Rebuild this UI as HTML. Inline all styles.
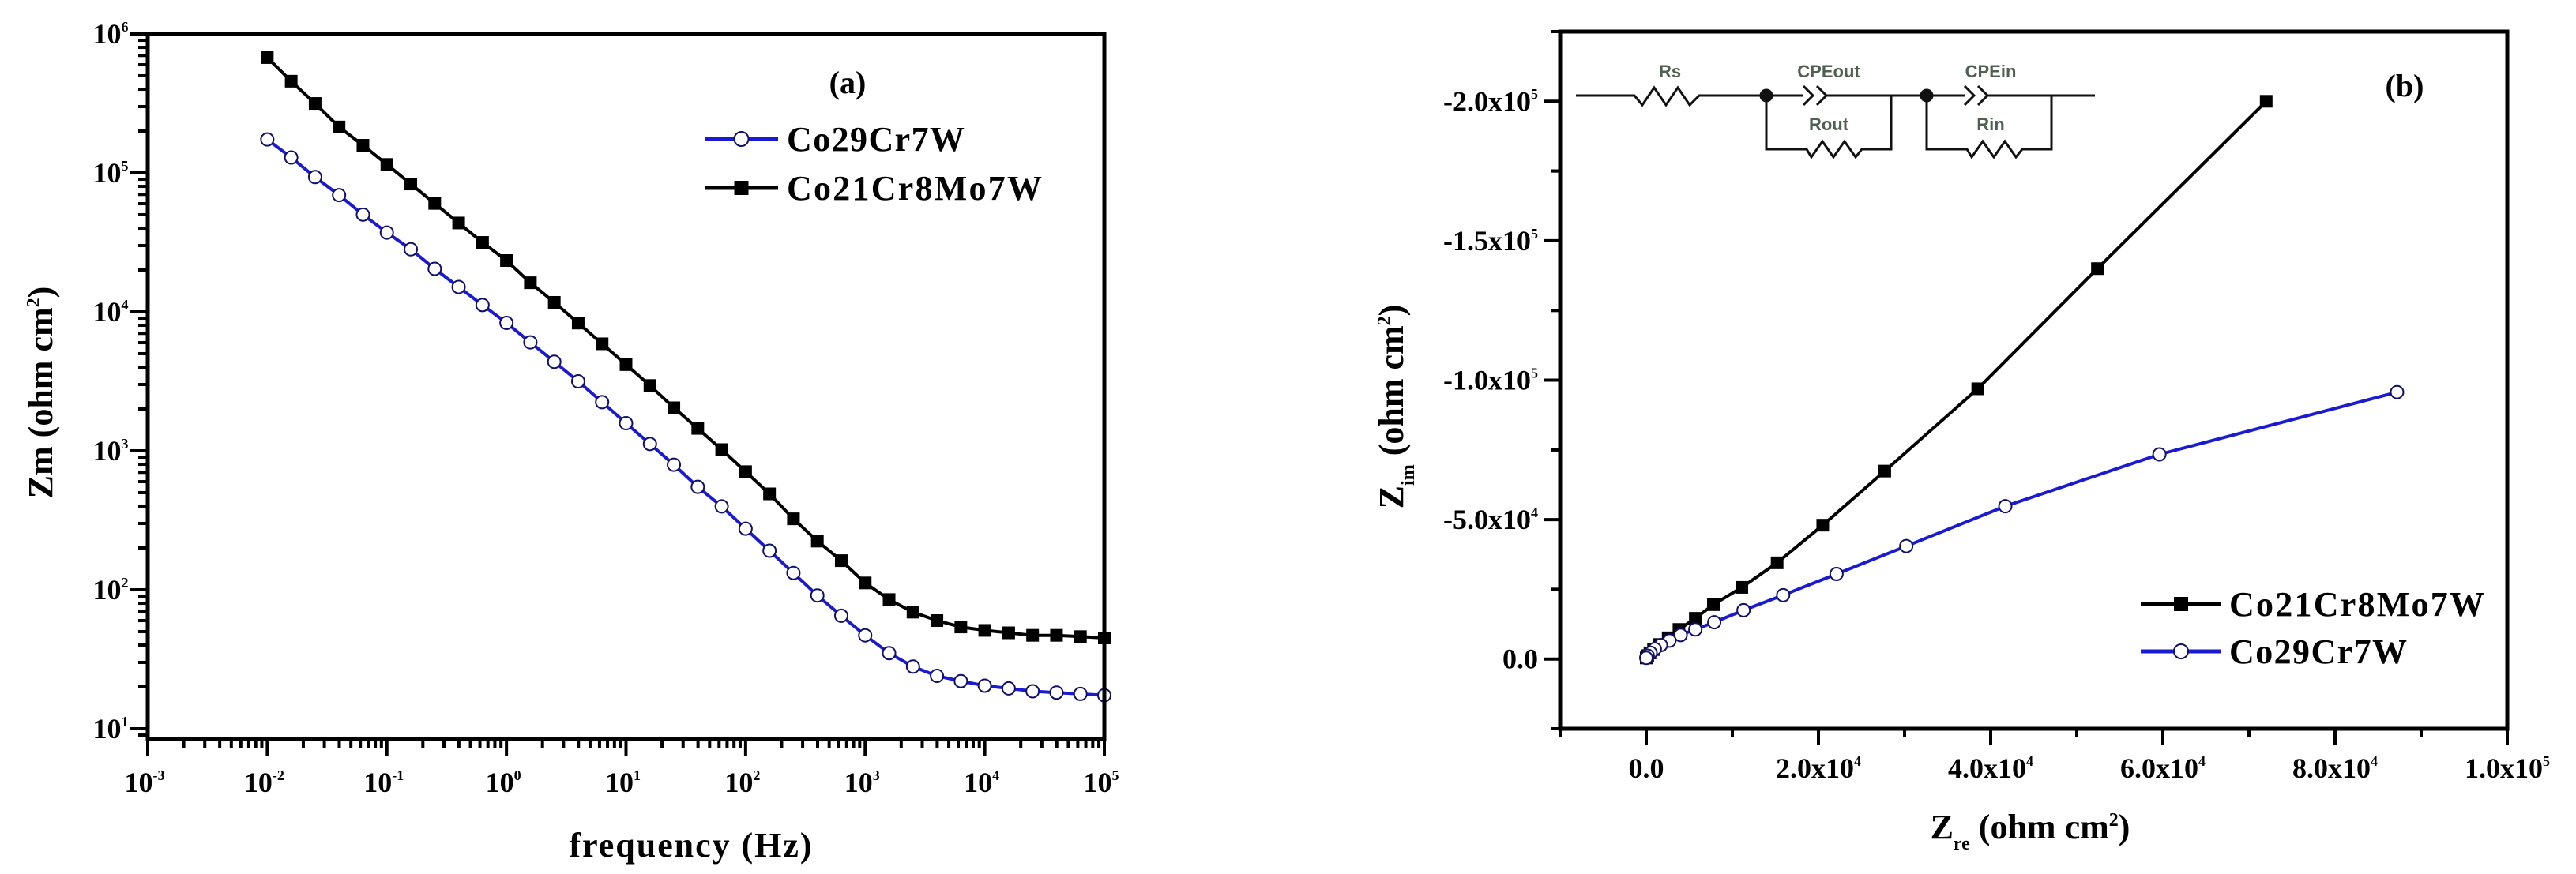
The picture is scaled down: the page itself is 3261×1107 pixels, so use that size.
<!DOCTYPE html>
<html><head><meta charset="utf-8"><style>
html,body{margin:0;padding:0;background:#fff;}
svg{display:block;font-family:"Liberation Serif",serif;font-weight:bold;}
</style></head><body>
<svg id="fig" width="3261" height="1107" viewBox="0 0 3261 1107" xmlns="http://www.w3.org/2000/svg">
<g id="pa"></g>
<g id="pb"></g>
</svg>
<script>
// ---- Panel (a) data ----
const freqExponents = [-2,-1.8,-1.6,-1.4,-1.2,-1,-0.8,-0.6,-0.4,-0.2,0,0.2,0.4,0.6,0.8,1,1.2,1.4,1.6,1.8,2,2.2,2.4,2.6,2.8,3,3.2,3.4,3.6,3.8,4,4.2,4.4,4.6,4.8,5];
const zmCo21 = [676000,457000,316000,214000,158000,115000,83200,60300,43600,31600,23400,16200,11700,8300,5890,4170,2950,2040,1450,1020,708,490,324,224,162,112,85,69,60,54,51,49,47,47,46,45];
const zmCo29 = [174000,129000,93300,69200,50100,37200,28200,20400,15100,11200,8320,6030,4370,3160,2240,1580,1120,794,550,398,275,191,132,91,65,47,35,28,24,22,20.4,19.5,18.6,18.2,17.8,17.4];
const xDecadesA = [-3,-2,-1,0,1,2,3,4,5];
const yDecadesA = [1,2,3,4,5,6];
// ---- Panel (b) data ----
const zreCo21 = [72000,52400,38500,27700,20500,15200,11100,7800,5700,3800,2550,1530,850,430,170,0];
const zimCo21 = [200000,140000,96900,67400,48000,34500,25700,19500,14600,10600,7600,5200,3400,2200,1200,400];
const zreCo29 = [87200,59600,41700,30200,22100,15900,11300,7900,5700,4000,2700,1700,1000,510,170,0];
const zimCo29 = [95700,73400,54800,40500,30500,22900,17500,13200,10600,8600,6600,5000,3600,2200,1200,400];
const xTicksB = [0,20000,40000,60000,80000,100000];
const xTickLabelsB = ["0.0","2.0x10|4","4.0x10|4","6.0x10|4","8.0x10|4","1.0x10|5"];
const yTicksB = [0,50000,100000,150000,200000];
const yTickLabelsB = ["0.0","-5.0x10|4","-1.0x10|5","-1.5x10|5","-2.0x10|5"];

const NS="http://www.w3.org/2000/svg";
function mk(parent,tag,attrs,text){const e=document.createElementNS(NS,tag);for(const k in attrs)e.setAttribute(k,attrs[k]);if(text!==undefined)e.textContent=text;parent.appendChild(e);return e;}
function expLabel(parent,x,y,base,exp,anchor,size){
  const t=mk(parent,'text',{x:x,y:y,'text-anchor':anchor,'font-size':size});
  mk(t,'tspan',{},base);
  if(exp!==undefined&&exp!==null){mk(t,'tspan',{dy:-size*0.42,'font-size':size*0.5},exp);}
  return t;
}

// ===== Panel A =====
const A={L:187,R:1398,T:43,B:936,xmin:-3,xmax:5,ymin:0.926,ymax:6};
function axA(f){return A.L+(Math.log10(f)-A.xmin)/(A.xmax-A.xmin)*(A.R-A.L);}
function ayA(v){return A.B-(Math.log10(v)-A.ymin)/(A.ymax-A.ymin)*(A.B-A.T);}
const pa=document.getElementById('pa');
const ticksA=mk(pa,'g',{stroke:'#000','stroke-width':4});


xDecadesA.forEach((d,i)=>{
  const x=axA(Math.pow(10,d));mk(ticksA,'line',{x1:x,y1:A.B,x2:x,y2:A.B+21});
  if(i<xDecadesA.length-1)for(let m=2;m<10;m++){const xm=axA(m*Math.pow(10,d));mk(ticksA,'line',{x1:xm,y1:A.B,x2:xm,y2:A.B+11});}
});
yDecadesA.forEach((d,i)=>{
  const y=ayA(Math.pow(10,d));mk(ticksA,'line',{x1:A.L,y1:y,x2:A.L-22,y2:y});
  for(let m=2;m<10;m++){const v=m*Math.pow(10,d-1);if(ayA(v)<=A.B){const ym=ayA(v);mk(ticksA,'line',{x1:A.L,y1:ym,x2:A.L-12,y2:ym});}}
});
const xlA=mk(pa,'g',{});


xDecadesA.forEach(d=>{expLabel(xlA,axA(Math.pow(10,d))-4,1003,'10',String(d),'middle',36);});
const ylA=mk(pa,'g',{});


yDecadesA.forEach(d=>{expLabel(ylA,140,ayA(Math.pow(10,d))+12,'10',String(d),'middle',36);});
function seriesA(vals,color,marker,name){
  const g=mk(pa,'g',{});
  
  
  const pts=freqExponents.map((e,i)=>axA(Math.pow(10,e)).toFixed(1)+','+ayA(vals[i]).toFixed(1)).join(' ');
  mk(g,'polyline',{points:pts,fill:'none',stroke:color,'stroke-width':4});
  freqExponents.forEach((e,i)=>{
    const x=axA(Math.pow(10,e)),y=ayA(vals[i]);
    let m;
    if(marker==='sq'){m=mk(g,'rect',{x:x-8,y:y-8,width:16,height:16,fill:'#000'});}
    else{m=mk(g,'circle',{cx:x,cy:y,r:8,fill:'#fff',stroke:'#10106a','stroke-width':2});}
    
    
  });
}
seriesA(zmCo21,'#000','sq','series-co21cr8mo7w-a');
seriesA(zmCo29,'#1a1ad0','circ','series-co29cr7w-a');
const frA=mk(pa,'rect',{x:A.L,y:A.T,width:A.R-A.L,height:A.B-A.T,fill:'none',stroke:'#000','stroke-width':5});


const tA=mk(pa,'text',{x:1073,y:118,'text-anchor':'middle','font-size':40},'(a)');


const xtA=mk(pa,'text',{x:874,y:1085,'text-anchor':'middle','font-size':44,textLength:307},'frequency (Hz)');


const ytA=mk(pa,'text',{x:0,y:0,'text-anchor':'middle','font-size':44,transform:'translate(66,497) rotate(-90)'});
mk(ytA,'tspan',{},'Zm (ohm cm');mk(ytA,'tspan',{dy:-16,'font-size':24},'2');mk(ytA,'tspan',{dy:16},')');


function legend(parent,x1,x2,y,tx,label,color,marker,name){
  const g=mk(parent,'g',{});
  
  
  mk(g,'line',{x1:x1,y1:y,x2:x2,y2:y,stroke:color,'stroke-width':5});
  const cx=(x1+x2)/2;
  if(marker==='sq')mk(g,'rect',{x:cx-9,y:y-9,width:18,height:18,fill:'#000'});
  else mk(g,'circle',{cx:cx,cy:y,r:9,fill:'#fff',stroke:'#10106a','stroke-width':2});
  mk(g,'text',{x:tx,y:y+15,'font-size':44,textLength:label.length>9?323:225},label);
}
legend(pa,892,985,176,996,'Co29Cr7W','#1a1ad0','circ','legend-entry-co29cr7w-a');
legend(pa,892,985,238,996,'Co21Cr8Mo7W','#000','sq','legend-entry-co21cr8mo7w-a');

// ===== Panel B =====
const B={L:1975,R:3174,T:40,B:923,xmin:-10000,xmax:100000,ymin:-25000,ymax:225000};
function axB(v){return B.L+(v-B.xmin)/(B.xmax-B.xmin)*(B.R-B.L);}
function ayB(v){return B.B-(v-B.ymin)/(B.ymax-B.ymin)*(B.B-B.T);}
const pb=document.getElementById('pb');
const ticksB=mk(pb,'g',{stroke:'#000','stroke-width':4});


xTicksB.forEach(v=>{const x=axB(v);mk(ticksB,'line',{x1:x,y1:B.B,x2:x,y2:B.B+21});const xm=axB(v-10000);if(xm>=B.L)mk(ticksB,'line',{x1:xm,y1:B.B,x2:xm,y2:B.B+11});});
yTicksB.forEach(v=>{const y=ayB(v);mk(ticksB,'line',{x1:B.L,y1:y,x2:B.L-21,y2:y});[v-25000,v+25000].forEach(w=>{const ym=ayB(w);if(ym>=B.T&&ym<=B.B)mk(ticksB,'line',{x1:B.L,y1:ym,x2:B.L-11,y2:ym});});});
const xlB=mk(pb,'g',{});


xTicksB.forEach((v,i)=>{const p=xTickLabelsB[i].split('|');expLabel(xlB,axB(v),985,p[0],p[1],'middle',36);});
const ylB=mk(pb,'g',{});


yTicksB.forEach((v,i)=>{const p=yTickLabelsB[i].split('|');expLabel(ylB,1947,ayB(v)+12,p[0],p[1],'end',36);});
function seriesB(xs,ys,color,marker,name){
  const g=mk(pb,'g',{});
  
  
  const pts=xs.map((x,i)=>axB(x).toFixed(1)+','+ayB(ys[i]).toFixed(1)).join(' ');
  mk(g,'polyline',{points:pts,fill:'none',stroke:color,'stroke-width':4});
  xs.forEach((xv,i)=>{
    const x=axB(xv),y=ayB(ys[i]);let m;
    if(marker==='sq')m=mk(g,'rect',{x:x-8,y:y-8,width:16,height:16,fill:'#000'});
    else m=mk(g,'circle',{cx:x,cy:y,r:8,fill:'#fff',stroke:'#10106a','stroke-width':2});
    
    
  });
}
seriesB(zreCo21,zimCo21,'#000','sq','series-co21cr8mo7w-b');
seriesB(zreCo29,zimCo29,'#1a1ad0','circ','series-co29cr7w-b');
const frB=mk(pb,'rect',{x:B.L,y:B.T,width:B.R-B.L,height:B.B-B.T,fill:'none',stroke:'#000','stroke-width':5});


const tB=mk(pb,'text',{x:3044,y:122,'text-anchor':'middle','font-size':40},'(b)');


const xtB=mk(pb,'text',{x:2570,y:1062,'text-anchor':'middle','font-size':44});
mk(xtB,'tspan',{},'Z');mk(xtB,'tspan',{dy:14,'font-size':24},'re');mk(xtB,'tspan',{dy:-14},' (ohm cm');mk(xtB,'tspan',{dy:-16,'font-size':24},'2');mk(xtB,'tspan',{dy:16},')');


const ytB=mk(pb,'text',{x:0,y:0,'text-anchor':'middle','font-size':44,transform:'translate(1776,515) rotate(-90)'});
mk(ytB,'tspan',{},'Z');mk(ytB,'tspan',{dy:14,'font-size':24},'im');mk(ytB,'tspan',{dy:-14},' (ohm cm');mk(ytB,'tspan',{dy:-16,'font-size':24},'2');mk(ytB,'tspan',{dy:16},')');


legend(pb,2710,2812,765,2822,'Co21Cr8Mo7W','#000','sq','legend-entry-co21cr8mo7w-b');
legend(pb,2710,2812,825,2822,'Co29Cr7W','#1a1ad0','circ','legend-entry-co29cr7w-b');
</script>
<svg style="position:absolute;left:0;top:0" width="3261" height="1107">
<g fill="none" stroke="#111" stroke-width="3">
<path d="M1995 121 H2069 l10 12 l15 -22 l15 22 l15 -22 l15 22 l12 -12 H2283"/>
<path d="M2283 109 l12 12 l-12 12 M2300 109 l12 12 l-12 12 M2312 121 H2439 M2394 121 V189 H2357 l-8 10 l-14 -20 l-14 20 l-14 -20 l-14 20 l-6 -10 H2236 V121"/>
<path d="M2439 121 H2487 M2487 109 l12 12 l-12 12 M2504 109 l12 12 l-12 12 M2516 121 H2652 M2597 121 V189 H2560 l-8 10 l-14 -20 l-14 20 l-14 -20 l-14 20 l-6 -10 H2439 V121"/>
<circle cx="2236" cy="121" r="7" fill="#111"/><circle cx="2439" cy="121" r="7" fill="#111"/>
</g>
<g font-family="Liberation Sans, sans-serif" font-weight="bold" font-size="22" fill="#4f5f50" text-anchor="middle">
<text x="2114" y="98">Rs</text>
<text x="2315" y="98">CPEout</text>
<text x="2315" y="165">Rout</text>
<text x="2520" y="98">CPEin</text>
<text x="2520" y="165">Rin</text>
</g>
</svg>
</body></html>
